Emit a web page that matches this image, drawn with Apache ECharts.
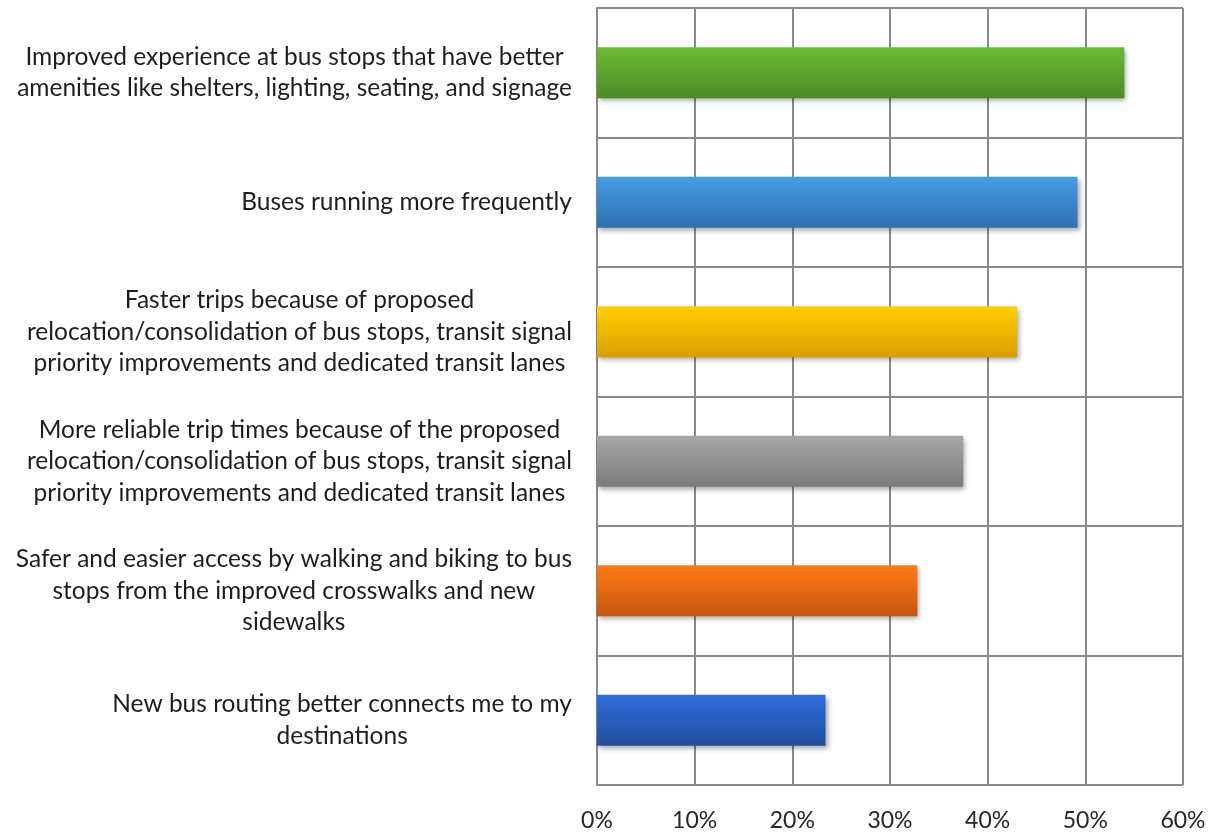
<!DOCTYPE html>
<html>
<head>
<meta charset="utf-8">
<script src="https://cdn.jsdelivr.net/npm/echarts@6/dist/echarts.min.js"></script>
<style>
html,body{margin:0;padding:0;background:#fff;}
#chart{width:1215px;height:833px;}
</style>
</head>
<body>
<div id="chart"></div>
<script>
var categories = [
  "Improved experience at bus stops that have better\namenities like shelters, lighting, seating, and signage",
  "Buses running more frequently",
  "Faster trips because of proposed\nrelocation/consolidation of bus stops, transit signal\npriority improvements and dedicated transit lanes",
  "More reliable trip times because of the proposed\nrelocation/consolidation of bus stops, transit signal\npriority improvements and dedicated transit lanes",
  "Safer and easier access by walking and biking to bus\nstops from the improved crosswalks and new\nsidewalks",
  "New bus routing better connects me to my\ndestinations"
];
var values = [0.54, 0.492, 0.43, 0.375, 0.328, 0.234];
var tickLabels = ["0%", "10%", "20%", "30%", "40%", "50%", "60%"];

var gradients = [
  ["#6cbb32", "#4e8a27"],
  ["#469de6", "#2f6fae"],
  ["#ffd000", "#d99e00"],
  ["#a6a6a6", "#7b7b7b"],
  ["#ff7a14", "#c4560f"],
  ["#2f6ddb", "#224f9e"]
];

var chart = echarts.init(document.getElementById('chart'), null, {renderer: 'canvas'});
var FONT = 'Lato';
var option = {
  animation: false,
  backgroundColor: '#ffffff',
  grid: {left: 597, right: 32, top: 8, bottom: 48, containLabel: false},
  xAxis: {
    type: 'value', min: 0, max: 0.6, interval: 0.1,
    axisLine: {show: false},
    axisTick: {show: false},
    splitLine: {show: true, lineStyle: {color: '#8a8a8a', width: 2}},
    axisLabel: {
      color: '#262626', fontSize: 23, fontFamily: FONT, margin: 24,
      formatter: function (v) { return tickLabels[Math.round(v * 10)]; }
    }
  },
  yAxis: {
    type: 'category', inverse: true, data: categories,
    axisLine: {show: true, lineStyle: {color: '#8a8a8a', width: 2}},
    axisTick: {show: false},
    splitLine: {show: true, lineStyle: {color: '#8a8a8a', width: 2}},
    axisLabel: {
      margin: 25,
      formatter: function (v) {
        return v.split('\n').map(function (l) { return '{a|' + l + '}'; }).join('\n');
      },
      rich: {
        a: {align: 'center', color: '#1e1e1e', fontSize: 24.5, fontFamily: FONT, lineHeight: 31.5}
      }
    }
  },
  series: [{
    type: 'bar',
    barWidth: 51,
    data: values.map(function (v, i) {
      return {
        value: v,
        itemStyle: {
          color: new echarts.graphic.LinearGradient(0, 0, 0, 1, [
            {offset: 0, color: gradients[i][0]},
            {offset: 1, color: gradients[i][1]}
          ]),
          shadowColor: 'rgba(0,0,0,0.35)',
          shadowBlur: 5,
          shadowOffsetX: 2,
          shadowOffsetY: 3
        }
      };
    })
  }]
};
chart.setOption(option);
</script>
</body>
</html>
